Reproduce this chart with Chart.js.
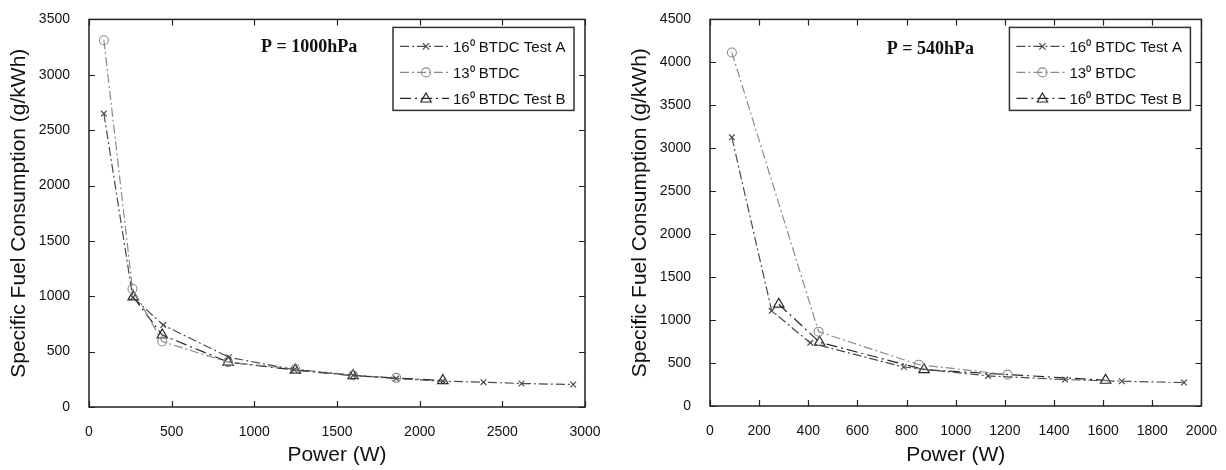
<!DOCTYPE html>
<html><head><meta charset="utf-8">
<script src="https://cdn.jsdelivr.net/npm/chart.js@4/dist/chart.umd.min.js"></script>
<style>
html,body{margin:0;padding:0;background:#fff;overflow:hidden;width:1226px;height:470px}
.wrap{position:absolute;top:0;width:613px;height:470px}
</style></head><body>
<div class="wrap" style="left:0"><canvas id="c1"></canvas></div>
<div class="wrap" style="left:613px"><canvas id="c2"></canvas></div>
<script>
// ---- Data: P = 1000 hPa ----
const leftPowerA = [90, 265, 449, 846, 1242, 1597, 1858, 2140, 2386, 2616, 2929];
const leftSfcA   = [2650, 990, 740, 449, 337, 286, 257, 233, 224, 212, 203];
const leftPower13 = [90, 263, 443, 841, 1248, 1597, 1858];
const leftSfc13   = [3312, 1068, 591, 405, 343, 286, 263];
const leftPowerB = [267, 443, 841, 1248, 1597, 2140];
const leftSfcB   = [994, 650, 406, 333, 283, 239];
// ---- Data: P = 540 hPa ----
const rightPowerA = [89, 251, 408, 789, 1132, 1445, 1676, 1929];
const rightSfcA   = [3127, 1108, 735, 454, 350, 308, 288, 273];
const rightPower13 = [89, 442, 850, 1211];
const rightSfc13   = [4115, 865, 481, 365];
const rightPowerB = [280, 446, 871, 1610];
const rightSfcB   = [1185, 742, 423, 300];

const seriesLabels = ['16\u2070 BTDC Test A', '13\u2070 BTDC', '16\u2070 BTDC Test B'];
const xTitle = 'Power (W)';
const yTitle = 'Specific Fuel Consumption (g/kWh)';
const leftNote = 'P = 1000hPa';
const rightNote = 'P = 540hPa';

const pts = (xs, ys) => xs.map((v, i) => ({x: v, y: ys[i]}));

Chart.defaults.font.family = '"Liberation Sans", Arial, sans-serif';
Chart.defaults.color = '#111';

const styles = [
  {borderColor:'#4a4a4a', borderDash:[9,3,2,3], pointStyle:'crossRot', pointRadius:4, pointBorderWidth:1.2},
  {borderColor:'#8a8a8a', borderDash:[9,3,2,3], pointStyle:'circle', pointRadius:4.5, pointBorderWidth:1.1},
  {borderColor:'#262626', borderDash:[11,4,2,4], pointStyle:'triangle', pointRadius:6, pointBorderWidth:1.2}
];

function drawMarker(ctx, style, r, x, y){
  ctx.beginPath();
  if (style === 'crossRot') {
    ctx.moveTo(x-r*0.8, y-r*0.8); ctx.lineTo(x+r*0.8, y+r*0.8);
    ctx.moveTo(x+r*0.8, y-r*0.8); ctx.lineTo(x-r*0.8, y+r*0.8);
  } else if (style === 'circle') {
    ctx.arc(x, y, r, 0, Math.PI*2);
  } else {
    const h = r*1.5, w = r*0.866*2;
    ctx.moveTo(x, y - h*0.6); ctx.lineTo(x + w/2, y + h*0.4); ctx.lineTo(x - w/2, y + h*0.4); ctx.closePath();
  }
  ctx.stroke();
}

const decorPlugin = {
  id: 'decor',
  afterDatasetsDraw(chart, args, opts){
    const {ctx, chartArea:a, scales:{x, y}} = chart;
    ctx.save();
    ctx.font = 'bold 18px "Liberation Serif", "Times New Roman", serif';
    ctx.fillStyle = '#111'; ctx.textAlign = 'center'; ctx.textBaseline = 'middle';
    ctx.fillText(opts.note, x.getPixelForValue(opts.noteX), y.getPixelForValue(opts.noteY));
    const bw = 181, bh = 83;
    const bx = a.right - 11 - bw, by = a.top + 8;
    ctx.fillStyle = '#fff'; ctx.fillRect(bx, by, bw, bh);
    ctx.strokeStyle = '#333'; ctx.lineWidth = 1.5; ctx.strokeRect(bx, by, bw, bh);
    chart.data.datasets.forEach((ds, i) => {
      const yy = by + 19 + i*26;
      ctx.strokeStyle = ds.borderColor; ctx.lineWidth = 1.2;
      ctx.setLineDash(ds.borderDash);
      ctx.beginPath(); ctx.moveTo(bx+7, yy); ctx.lineTo(bx+56, yy); ctx.stroke();
      ctx.setLineDash([]);
      ctx.lineWidth = ds.pointBorderWidth;
      drawMarker(ctx, ds.pointStyle, ds.pointRadius, bx+33, yy);
      ctx.fillStyle = '#111'; ctx.font = '15px "Liberation Sans", Arial, sans-serif';
      ctx.textAlign = 'left'; ctx.textBaseline = 'middle';
      ctx.fillText(ds.label, bx+60, yy+1);
    });
    ctx.restore();
  },
  afterDraw(chart){
    const {ctx, chartArea:a, scales:{x, y}} = chart;
    ctx.save();
    ctx.strokeStyle = '#222'; ctx.lineWidth = 1.5;
    ctx.strokeRect(a.left, a.top, a.right-a.left, a.bottom-a.top);
    ctx.lineWidth = 1.2;
    ctx.beginPath();
    x.ticks.forEach(t => {
      const px = Math.round(x.getPixelForValue(t.value)) + 0.5;
      ctx.moveTo(px, a.bottom); ctx.lineTo(px, a.bottom-6);
      ctx.moveTo(px, a.top); ctx.lineTo(px, a.top+6);
    });
    y.ticks.forEach(t => {
      const py = Math.round(y.getPixelForValue(t.value)) + 0.5;
      ctx.moveTo(a.left, py); ctx.lineTo(a.left+6, py);
      ctx.moveTo(a.right, py); ctx.lineTo(a.right-6, py);
    });
    ctx.stroke();
    ctx.restore();
  }
};

const plain = v => String(v);

function makeChart(id, series, xMax, xStep, yMax, cfg){
  const datasets = series.map((s, i) => Object.assign({
    label: seriesLabels[i],
    data: pts(s[0], s[1]),
    showLine: true, tension: 0, borderWidth: 1.2,
    pointBackgroundColor: 'rgba(0,0,0,0)',
    pointBorderColor: styles[i].borderColor,
    fill: false
  }, styles[i]));
  return new Chart(document.getElementById(id), {
    type: 'scatter',
    data: {datasets},
    plugins: [decorPlugin],
    options: {
      responsive: true, maintainAspectRatio: false, animation: false, devicePixelRatio: 1,
      layout: {padding: {left: 0, right: cfg.padRight, top: cfg.padTop, bottom: 0}},
      plugins: {legend: {display: false}, tooltip: {enabled: false},
        decor: {note: cfg.note, noteX: cfg.noteX, noteY: cfg.noteY}},
      scales: {
        x: {type: 'linear', min: 0, max: xMax,
          ticks: {stepSize: xStep, padding: 9, font: {size: 14}, color: '#111', maxRotation: 0, callback: plain},
          grid: {display: false}, border: {display: false},
          title: {display: true, text: xTitle, font: {size: 21}, color: '#111', padding: {top: 0, bottom: 2}},
          afterFit: s => { s.height = cfg.xHeight; }
        },
        y: {type: 'linear', min: 0, max: yMax,
          ticks: {stepSize: 500, padding: 11, font: {size: 14}, color: '#111', callback: plain},
          grid: {display: false}, border: {display: false},
          title: {display: true, text: yTitle, font: {size: 21}, color: '#111', padding: {top: cfg.yTitlePad, bottom: 0}},
          afterFit: s => { s.width = cfg.yWidth; }
        }
      }
    }
  });
}

makeChart('c1', [[leftPowerA, leftSfcA], [leftPower13, leftSfc13], [leftPowerB, leftSfcB]],
  3000, 500, 3500,
  {padRight: 28, padTop: 16, xHeight: 63, yWidth: 89, yTitlePad: 7, note: leftNote, noteX: 1331, noteY: 3244});
makeChart('c2', [[rightPowerA, rightSfcA], [rightPower13, rightSfc13], [rightPowerB, rightSfcB]],
  2000, 200, 4500,
  {padRight: 23, padTop: 17, xHeight: 64, yWidth: 97, yTitlePad: 15, note: rightNote, noteX: 897, noteY: 4153});
</script>
</body></html>
